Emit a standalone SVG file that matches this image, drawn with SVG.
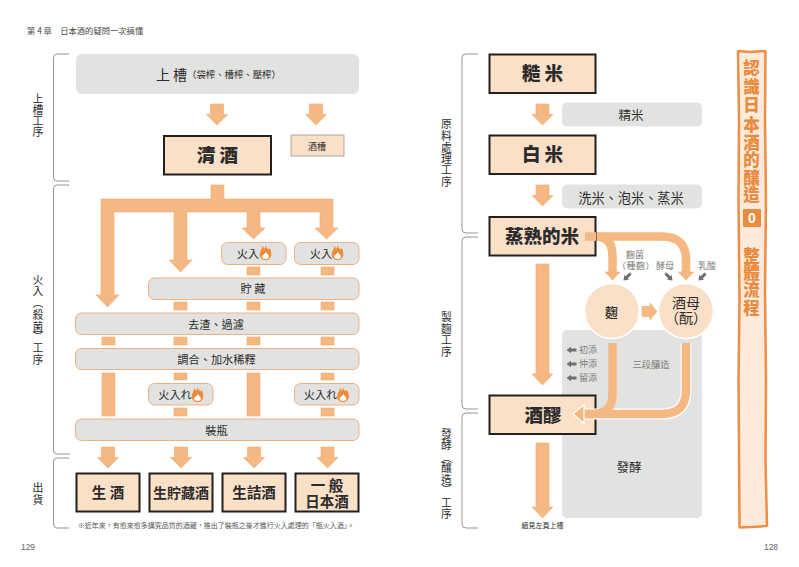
<svg xmlns="http://www.w3.org/2000/svg" width="799" height="567" viewBox="0 0 799 567">
<style>
text{font-family:"Noto Sans CJK TC","Noto Sans CJK SC",sans-serif;fill:#2b2b2b;text-anchor:middle}
.bg{fill:#fff}
.gray{fill:#e2e3e1}
.step{fill:#e2e3e1;stroke:#eeb282;stroke-width:1}
.prod{fill:#fbe0c8;stroke:#231f1c;stroke-width:2}
.conn{fill:#f5b882;stroke:#f0a96e;stroke-width:.6}
.curve{fill:none;stroke:#f5b882;stroke-width:8.5}
.casing{fill:none;stroke:#fff;stroke-width:11}
.brace{fill:none;stroke:#8a8a8a;stroke-width:.9}
.t18{font-size:18.500px;font-weight:900}
.t14{font-size:14.500px;font-weight:700}
.t12{font-size:12.500px}
.t13{font-size:14px}
.t10{font-size:11.200px}
.t8{font-size:9px;fill:#7a7a7a}
.small{font-size:7px;fill:#555}
.page{font-size:8.500px;fill:#666;font-family:"Liberation Sans",sans-serif}
.v{font-size:10.800px;fill:#2b2b2b}
.banner{font-size:16.500px;font-weight:900;fill:#e98a3e}
.mini{fill:#6f6f6f}
</style>
<defs>
<path id="a" class="conn" d="M-6.500 0H6.500V10.500H10.500L0 21L-10.500 10.500H-6.500Z"/>
<g id="flame">
<path d="M0-8C1-4.500 2.500-4.500 3-3.500C3.500-4 3.500-5 3.500-5.500C5.500-3.500 5.800-1 5.800 1.500C5.800 5 3 7 0 7C-3 7-5.800 5-5.800 1.500C-5.800-2-3.500-3.500-3-7C-2-6-1.500-5-1.500-4C-.5-5-.2-6 0-8Z" fill="#ee8a3a"/>
<path d="M.5-1C1 1 3.400 1.500 3.400 3.500C3.400 5.200 2 6 0 6C-2 6-3.400 5.200-3.400 3.500C-3.400 2-1.500 1.500-.5.500Z" fill="#fff"/>
</g>
<path id="m" class="mini" d="M-5 0L-.5-3.300V-1.500H5V1.500H-.5V3.300Z"/>
</defs>
<rect class="bg" width="799" height="567"/>

<text x="27" y="34" style="text-anchor:start;font-size:8.300px;fill:#444">第 4 章　日本酒的疑問一次搞懂</text>
<text class="page" x="28" y="550">129</text>
<text class="page" x="771" y="550">128</text>

<g id="braces">
<path class="brace" d="M69 54H57Q53.500 54 53.500 58V177Q53.500 181 57 181H69"/>
<path class="brace" d="M69 185H57Q53.500 185 53.500 189V450Q53.500 454 57 454H70"/>
<path class="brace" d="M69 458H57Q53.500 458 53.500 462V524Q53.500 528 57 528H69"/>
<path class="brace" d="M478 54H466Q462 54 462 58V229Q462 233 466 233H478"/>
<path class="brace" d="M478 237H466Q462 237 462 241V405Q462 409 466 409H478"/>
<path class="brace" d="M478 413H466Q462 413 462 417V524Q462 528 466 528H478"/>
</g>
<g id="stage-labels">
<text class="v" x="38 38 38 38" y="103 114 125 136">上槽工序</text>
<text class="v" x="38 38 38 38 38 38 38 38" y="284 295 307 319 330.500 341 352 364">火入︵殺菌︶工序</text>
<text class="v" x="38 38" y="492 504">出貨</text>
<text class="v" x="446.500 446.500 446.500 446.500 446.500 446.500" y="128 140 152 163 174 186">原料處理工序</text>
<text class="v" x="446.500 446.500 446.500 446.500" y="321 333 344 356">製麴工序</text>
<text class="v" x="446.500 446.500 446.500 446.500 446.500 446.500 446.500 446.500" y="438 449 462 472 484 494 507 518">發酵︵釀造︶工序</text>
</g>

<g id="panel-fermentation"><rect class="gray" x="562" y="330" width="140" height="188" rx="5"/></g>

<g id="connectors">
<use href="#a" x="217" y="104"/><use href="#a" x="316" y="104"/>
<path class="conn" d="M211 185H224V199H333V228H338L326.500 239L315 228H320V212H260V228H265L253.500 239L242 228H247V212H187V260H192L180.500 272L169 260H174V212H114V295H119L107.500 307L96 295H101V199H211Z"/>
<rect class="conn" x="247" y="267" width="13" height="8"/><rect class="conn" x="321" y="267" width="13" height="8"/>
<rect class="conn" x="174" y="302" width="13" height="8"/><rect class="conn" x="247" y="302" width="13" height="8"/><rect class="conn" x="321" y="302" width="13" height="8"/>
<rect class="conn" x="102" y="337" width="13" height="8"/><rect class="conn" x="174" y="337" width="13" height="8"/><rect class="conn" x="247" y="337" width="13" height="8"/><rect class="conn" x="321" y="337" width="13" height="8"/>
<rect class="conn" x="102" y="373" width="13" height="43"/><rect class="conn" x="247" y="373" width="13" height="43"/>
<rect class="conn" x="174" y="373" width="13" height="7"/><rect class="conn" x="321" y="373" width="13" height="7"/>
<rect class="conn" x="174" y="408" width="13" height="8"/><rect class="conn" x="321" y="408" width="13" height="8"/>
<use href="#a" x="108" y="447"/><use href="#a" x="181" y="447"/><use href="#a" x="254" y="447"/><use href="#a" x="327.500" y="447"/>

<use href="#a" x="542.500" y="104"/><use href="#a" x="542.500" y="185"/>
<path class="conn" d="M536 264H549V374H553L542.500 385L532 374H536Z"/>
<path class="conn" d="M536 443H549V507H553L542.500 518L532 507H536Z"/>
<path class="curve" d="M585 236.500H596Q612.500 236.500 612.500 256V272"/>
<path class="curve" d="M585 236.500H662Q686 236.500 686 260V272"/>
<path class="conn" d="M605 272H620L612.500 280Z"/><path class="conn" d="M678.500 272H693.500L686 280Z"/>
<path class="conn" d="M642 306.500H650V303L657 311.500L650 320V316.500H642Z"/>
</g>

<g id="node-joso"><rect class="gray" x="76" y="54" width="283" height="40" rx="6"/>
<text x="171.500" y="80" style="font-size:14px">上 槽</text><text x="234" y="78" style="font-size:9.400px">（袋榨、槽榨、壓榨）</text></g>
<g id="node-seishu"><rect class="prod" x="164" y="136" width="107" height="38.500"/><text x="217.500" y="162" class="t18">清 酒</text></g>
<g id="node-sakekasu"><rect x="291" y="135" width="53" height="21" fill="#fbe0c8" stroke="#999" stroke-width=".8"/><text x="317" y="149.500" style="font-size:9px">酒槽</text></g>

<g id="node-hiire1"><rect class="step" x="221.500" y="242.500" width="64.500" height="22" rx="6"/><text x="248" y="258" class="t10">火入</text><use href="#flame" x="265.500" y="253"/></g>
<g id="node-hiire2"><rect class="step" x="294.500" y="242.500" width="64.500" height="22" rx="6"/><text x="321" y="258" class="t10">火入</text><use href="#flame" x="337.500" y="253"/></g>
<g id="node-store"><rect class="step" x="148.500" y="278" width="210.500" height="21.500" rx="6"/><text x="253" y="293" class="t10">貯 藏</text></g>
<g id="node-filter"><rect class="step" x="75.500" y="313" width="283.500" height="21.500" rx="6"/><text x="216" y="329" class="t10">去渣、過濾</text></g>
<g id="node-blend"><rect class="step" x="75.500" y="348.500" width="283.500" height="21" rx="6"/><text x="216.500" y="364" class="t10">調合、加水稀釋</text></g>
<g id="node-hiire3"><rect class="step" x="148.500" y="383.500" width="64.500" height="21.500" rx="6"/><text x="175" y="399" class="t10">火入れ</text><use href="#flame" x="197.500" y="395"/></g>
<g id="node-hiire4"><rect class="step" x="294.500" y="383.500" width="64.500" height="21.500" rx="6"/><text x="320.500" y="399" class="t10">火入れ</text><use href="#flame" x="343" y="395"/></g>
<g id="node-bottle"><rect class="step" x="75.500" y="419" width="283.500" height="21.500" rx="6"/><text x="216.500" y="434.500" class="t10">裝瓶</text></g>

<g id="node-nama"><rect class="prod" x="76.500" y="473.500" width="63" height="38"/><text x="108" y="498" class="t14">生 酒</text></g>
<g id="node-namacho"><rect class="prod" x="149.500" y="473.500" width="63" height="38"/><text x="181" y="498" class="t14" style="font-size:14px">生貯藏酒</text></g>
<g id="node-namazume"><rect class="prod" x="222.500" y="473.500" width="63" height="38"/><text x="254" y="498" class="t14">生詰酒</text></g>
<g id="node-ippan"><rect class="prod" x="295.500" y="473.500" width="63" height="38"/><text class="t14"><tspan x="327" y="491">一 般</tspan><tspan x="327" y="507">日本酒</tspan></text></g>
<text id="footnote" x="216" y="527.500" class="small">※近年來，有愈來愈多講究品質的酒藏，推出了裝瓶之後才進行火入處理的「瓶火入酒」。</text>

<g id="node-genmai"><rect class="prod" x="489.500" y="54.500" width="106" height="38.500"/><text x="542.500" y="80" class="t18">糙 米</text></g>
<g id="node-seimai"><rect class="gray" x="562" y="102.500" width="140" height="24" rx="5"/><text x="631" y="120" class="t12">精米</text></g>
<g id="node-hakumai"><rect class="prod" x="489.500" y="135.500" width="106" height="38.500"/><text x="542.500" y="161" class="t18">白 米</text></g>
<g id="node-wash"><rect class="gray" x="562" y="184.500" width="140" height="24" rx="5"/><text x="631" y="202.500" style="font-size:13.200px">洗米、泡米、蒸米</text></g>
<g id="node-steamed"><rect class="prod" x="489.500" y="217" width="106" height="38.500"/><text x="542" y="243" class="t18">蒸熟的米</text></g>
<path class="curve" d="M585 236.500H596"/>

<g id="ingredient-labels">
<text class="t8"><tspan x="635" y="258">麴菌</tspan><tspan x="636" y="269" style="letter-spacing:.5px">（種麴）</tspan></text><text x="665" y="269" class="t8">酵母</text><text x="707" y="269" class="t8">乳酸</text>
<use href="#m" transform="translate(627 277) rotate(-45)"/><use href="#m" transform="translate(669 277) rotate(225)"/><use href="#m" transform="translate(702 277) rotate(-45)"/>
</g>

<g id="node-koji"><circle cx="612" cy="311" r="27.500" fill="#fbe0c8" stroke="#fff" stroke-width="1.500"/><text x="611.500" y="317" style="font-weight:500;font-size:13px">麴</text></g>
<g id="node-shubo"><circle cx="686" cy="311" r="27.500" fill="#fbe0c8" stroke="#fff" stroke-width="1.500"/><text class="t13"><tspan x="686" y="308">酒母</tspan><tspan x="686" y="323">（酛）</tspan></text></g>

<g id="labels-sandan">
<use href="#m" x="571.500" y="350"/><use href="#m" x="571.500" y="364"/><use href="#m" x="571.500" y="378"/>
<text x="588" y="353" class="t8">初添</text><text x="588" y="367" class="t8">仲添</text><text x="588" y="381" class="t8">留添</text>
<text x="651" y="367.500" class="t8" style="font-size:9.300px">三段釀造</text>
<text x="629" y="471.500" class="t12">發酵</text>
</g>

<g id="node-moromi"><rect class="prod" x="489.500" y="395.500" width="106" height="38.500"/><text x="543" y="421.500" class="t18">酒醪</text></g>

<g id="connectors-fermentation">
<path class="casing" d="M686 343V390Q686 414 662 414H585"/>
<path class="curve" d="M612.500 343V394Q612.500 414 592 414H582"/>
<path class="curve" d="M686 343V390Q686 414 662 414H582"/>
<path d="M584 404.500V423.500L573 414Z" fill="#f5b882" stroke="#fff" stroke-width="1.200"/>
</g>
<text id="continue-note" x="542.500" y="527.500" style="font-size:7px">續見左頁上槽</text>

<g id="banner">
<path d="M738 51L750 52L765.500 51L765 120L766 200L765 290L766 380L765.500 460L767 526L752 527L739.500 527.500L739 450L738.500 380L739.500 300L738.500 200L739 120Z" fill="#fdeadb" stroke="#ec8e45" stroke-width="2.500" stroke-linejoin="bevel"/>
<text class="banner" x="751.500 751.500 751.500 751.500 751.500 751.500 751.500 751.500" y="74 93 111 131 149 166 184 201">認識日本酒的釀造</text>
<rect x="743" y="209" width="18" height="18" rx="1" fill="#e98a3e"/>
<text x="752" y="223" style="font-size:14px;font-weight:700;fill:#fff;font-family:'Liberation Sans',sans-serif">0</text>
<text class="banner" x="751.500 751.500 751.500 751.500" y="262 279 296 314">整體流程</text>
</g>
</svg>
